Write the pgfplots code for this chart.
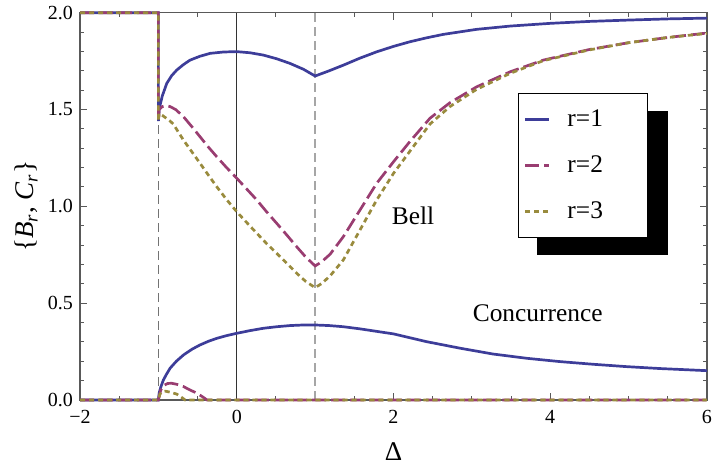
\documentclass[border=0pt]{standalone}
\usepackage{fontspec}
\setmainfont{Liberation Serif}
\usepackage{pgfplots}
\pgfplotsset{compat=1.18}

\definecolor{mblue}{rgb}{0.24,0.24,0.6}
\definecolor{mmag}{rgb}{0.6,0.24,0.443}
\definecolor{mgold}{rgb}{0.6,0.547,0.24}

\newcommand{\tickfont}{\fontsize{10}{12}\selectfont}
\newcommand{\txtfont}{\fontsize{12.7}{15}\selectfont}

\begin{document}
\begin{tikzpicture}
\begin{axis}[
  name=ax,
  scale only axis,
  width=313.5pt, height=193.6pt,
  xmin=-2, xmax=6, ymin=0, ymax=2,
  clip=false,
  xtick={-2,0,2,4,6},
  xticklabels={−2,0,2,4,6},
  minor x tick num=3,
  ytick={0,0.5,1,1.5,2},
  yticklabels={0.0,0.5,1.0,1.5,2.0},
  minor y tick num=4,
  tick align=inside,
  major tick length=3.5pt,
  minor tick length=2pt,
  tick style={black!65, line width=0.5pt},
  axis line style={black!65, line width=0.6pt},
  tick label style={font=\tickfont, black},
  xticklabel style={yshift=-1.5pt},
  xlabel={Δ},
  xlabel style={font=\fontsize{13.5}{15}\selectfont, at={(axis description cs:0.5,0)}, anchor=center, yshift=-26pt},
  ylabel={\{\textit{B}\textsubscript{\textit{r}}, \textit{C}\textsubscript{\textit{r}}\}},
  ylabel style={font=\fontsize{13.5}{15}\selectfont, at={(axis description cs:-0.086,0.5)}, anchor=center},
  legend cell align=left,
  legend image code/.code={\draw[#1] plot coordinates {(0pt,0pt) (12pt,0pt)};},
  legend style={at={(rel axis cs:0.699,0.793)}, anchor=north west,
    draw=black, line width=0.5pt, fill=white, font=\txtfont,
    inner xsep=2.5pt, inner ysep=6.3pt, row sep=9pt},
]
% reference lines
\draw[black!55, line width=0.5pt, dash pattern=on 4.5pt off 2.5pt] (axis cs:-1,0) -- (axis cs:-1,2);
\draw[black!35, line width=0.7pt, dash pattern=on 4.5pt off 2.5pt] (axis cs:1,0) -- (axis cs:1,2);
\draw[black!80, line width=0.5pt] (axis cs:0,0) -- (axis cs:0,2);
% legend shadow
\fill[black] (axis cs:3.83,0.749) rectangle (axis cs:5.501,1.492);

% Bell, r=1
\addplot[mblue, line width=1.35pt] coordinates {
 (-2,2) (-1,2) (-1,1.44) (-0.99,1.50) (-0.978,1.523) (-0.95,1.57) (-0.893,1.635)
 (-0.83,1.675) (-0.765,1.704) (-0.68,1.732) (-0.596,1.755) (-0.47,1.775) (-0.34,1.790)
 (-0.17,1.797) (0,1.799) (0.17,1.793) (0.34,1.781) (0.51,1.762) (0.68,1.738)
 (0.85,1.708) (1.0,1.673) (1.18,1.700) (1.36,1.729) (1.57,1.765) (1.786,1.798)
 (2.0,1.826) (2.21,1.850) (2.42,1.870) (2.635,1.888) (3.06,1.914) (3.49,1.931)
 (4.0,1.945) (4.5,1.955) (5.0,1.962) (5.5,1.968) (6,1.972)};
% Bell, r=2
\addplot[mmag, line width=1.35pt, dash pattern=on 7pt off 2.5pt] coordinates {
 (-2,2) (-1,2) (-1,1.44) (-0.99,1.50) (-0.95,1.515) (-0.90,1.520) (-0.85,1.515)
 (-0.78,1.50) (-0.68,1.463) (-0.57,1.41) (-0.468,1.359) (-0.36,1.305) (-0.255,1.256)
 (-0.13,1.20) (0,1.145) (0.13,1.088) (0.255,1.033) (0.38,0.972) (0.51,0.912)
 (0.64,0.851) (0.765,0.791) (0.88,0.738) (1.0,0.692) (1.08,0.712) (1.19,0.752)
 (1.36,0.843) (1.573,0.981) (1.786,1.119) (2.0,1.230) (2.21,1.335) (2.466,1.455)
 (2.72,1.535) (3.06,1.617) (3.49,1.695) (3.91,1.755) (4.5,1.810) (5.0,1.845)
 (5.5,1.872) (6,1.895)};
% Bell, r=3
\addplot[mgold, line width=1.35pt, dash pattern=on 2.6pt off 1.9pt] coordinates {
 (-2,2) (-1,2) (-1,1.44) (-0.99,1.48) (-0.95,1.47) (-0.90,1.455) (-0.85,1.44)
 (-0.81,1.425) (-0.68,1.342) (-0.57,1.28) (-0.468,1.222) (-0.36,1.16) (-0.255,1.101)
 (-0.13,1.035) (0,0.972) (0.13,0.915) (0.255,0.861) (0.38,0.808) (0.51,0.757)
 (0.64,0.705) (0.765,0.654) (0.88,0.612) (1.0,0.580) (1.08,0.600) (1.19,0.640)
 (1.36,0.723) (1.573,0.878) (1.786,1.033) (2.0,1.170) (2.21,1.285) (2.466,1.425)
 (2.72,1.515) (3.06,1.604) (3.49,1.687) (3.91,1.752) (4.5,1.808) (5.0,1.845)
 (5.5,1.872) (6,1.893)};
\legend{\makebox[42pt][l]{\hspace{6.5pt}r=1},\makebox[42pt][l]{\hspace{6.5pt}r=2},\makebox[42pt][l]{\hspace{6.5pt}r=3}}

% Concurrence, r=1
\addplot[mblue, line width=1.35pt, forget plot] coordinates {
 (-2,0) (-1,0) (-0.99,0.035) (-0.97,0.065) (-0.936,0.103) (-0.9,0.13) (-0.85,0.164)
 (-0.77,0.20) (-0.68,0.232) (-0.57,0.262) (-0.468,0.284) (-0.36,0.303) (-0.255,0.318)
 (-0.13,0.332) (0,0.344) (0.17,0.358) (0.34,0.370) (0.51,0.378) (0.68,0.384)
 (0.85,0.387) (1.0,0.387) (1.18,0.384) (1.36,0.378) (1.573,0.367) (1.786,0.354)
 (2.0,0.341) (2.21,0.321) (2.42,0.301) (2.85,0.267) (3.27,0.237) (3.70,0.215)
 (4.12,0.198) (4.55,0.184) (4.97,0.172) (5.40,0.162) (6,0.151)};
% Concurrence, r=2
\addplot[mmag, line width=1.35pt, dash pattern=on 7pt off 2.5pt, forget plot] coordinates {
 (-2,0) (-1,0) (-0.97,0.05) (-0.93,0.075) (-0.88,0.085) (-0.83,0.086) (-0.76,0.08)
 (-0.68,0.069) (-0.6,0.052) (-0.51,0.035) (-0.44,0.017) (-0.38,0) (6,0)};
% Concurrence, r=3
\addplot[mgold, line width=1.35pt, dash pattern=on 2.6pt off 1.9pt, forget plot] coordinates {
 (-2,0) (-1,0) (-0.98,0.03) (-0.95,0.042) (-0.91,0.045) (-0.85,0.04) (-0.765,0.03)
 (-0.72,0.018) (-0.66,0) (6,0)};

\node[font=\txtfont] at (axis cs:2.25,0.95) {Bell};
\node[font=\txtfont] at (axis cs:3.84,0.45) {Concurrence};
\end{axis}
\pgfresetboundingbox
\path ([shift={(-40pt,-33pt)}]ax.south west) rectangle ([shift={(6pt,6.35pt)}]ax.north east);
\end{tikzpicture}
\end{document}
